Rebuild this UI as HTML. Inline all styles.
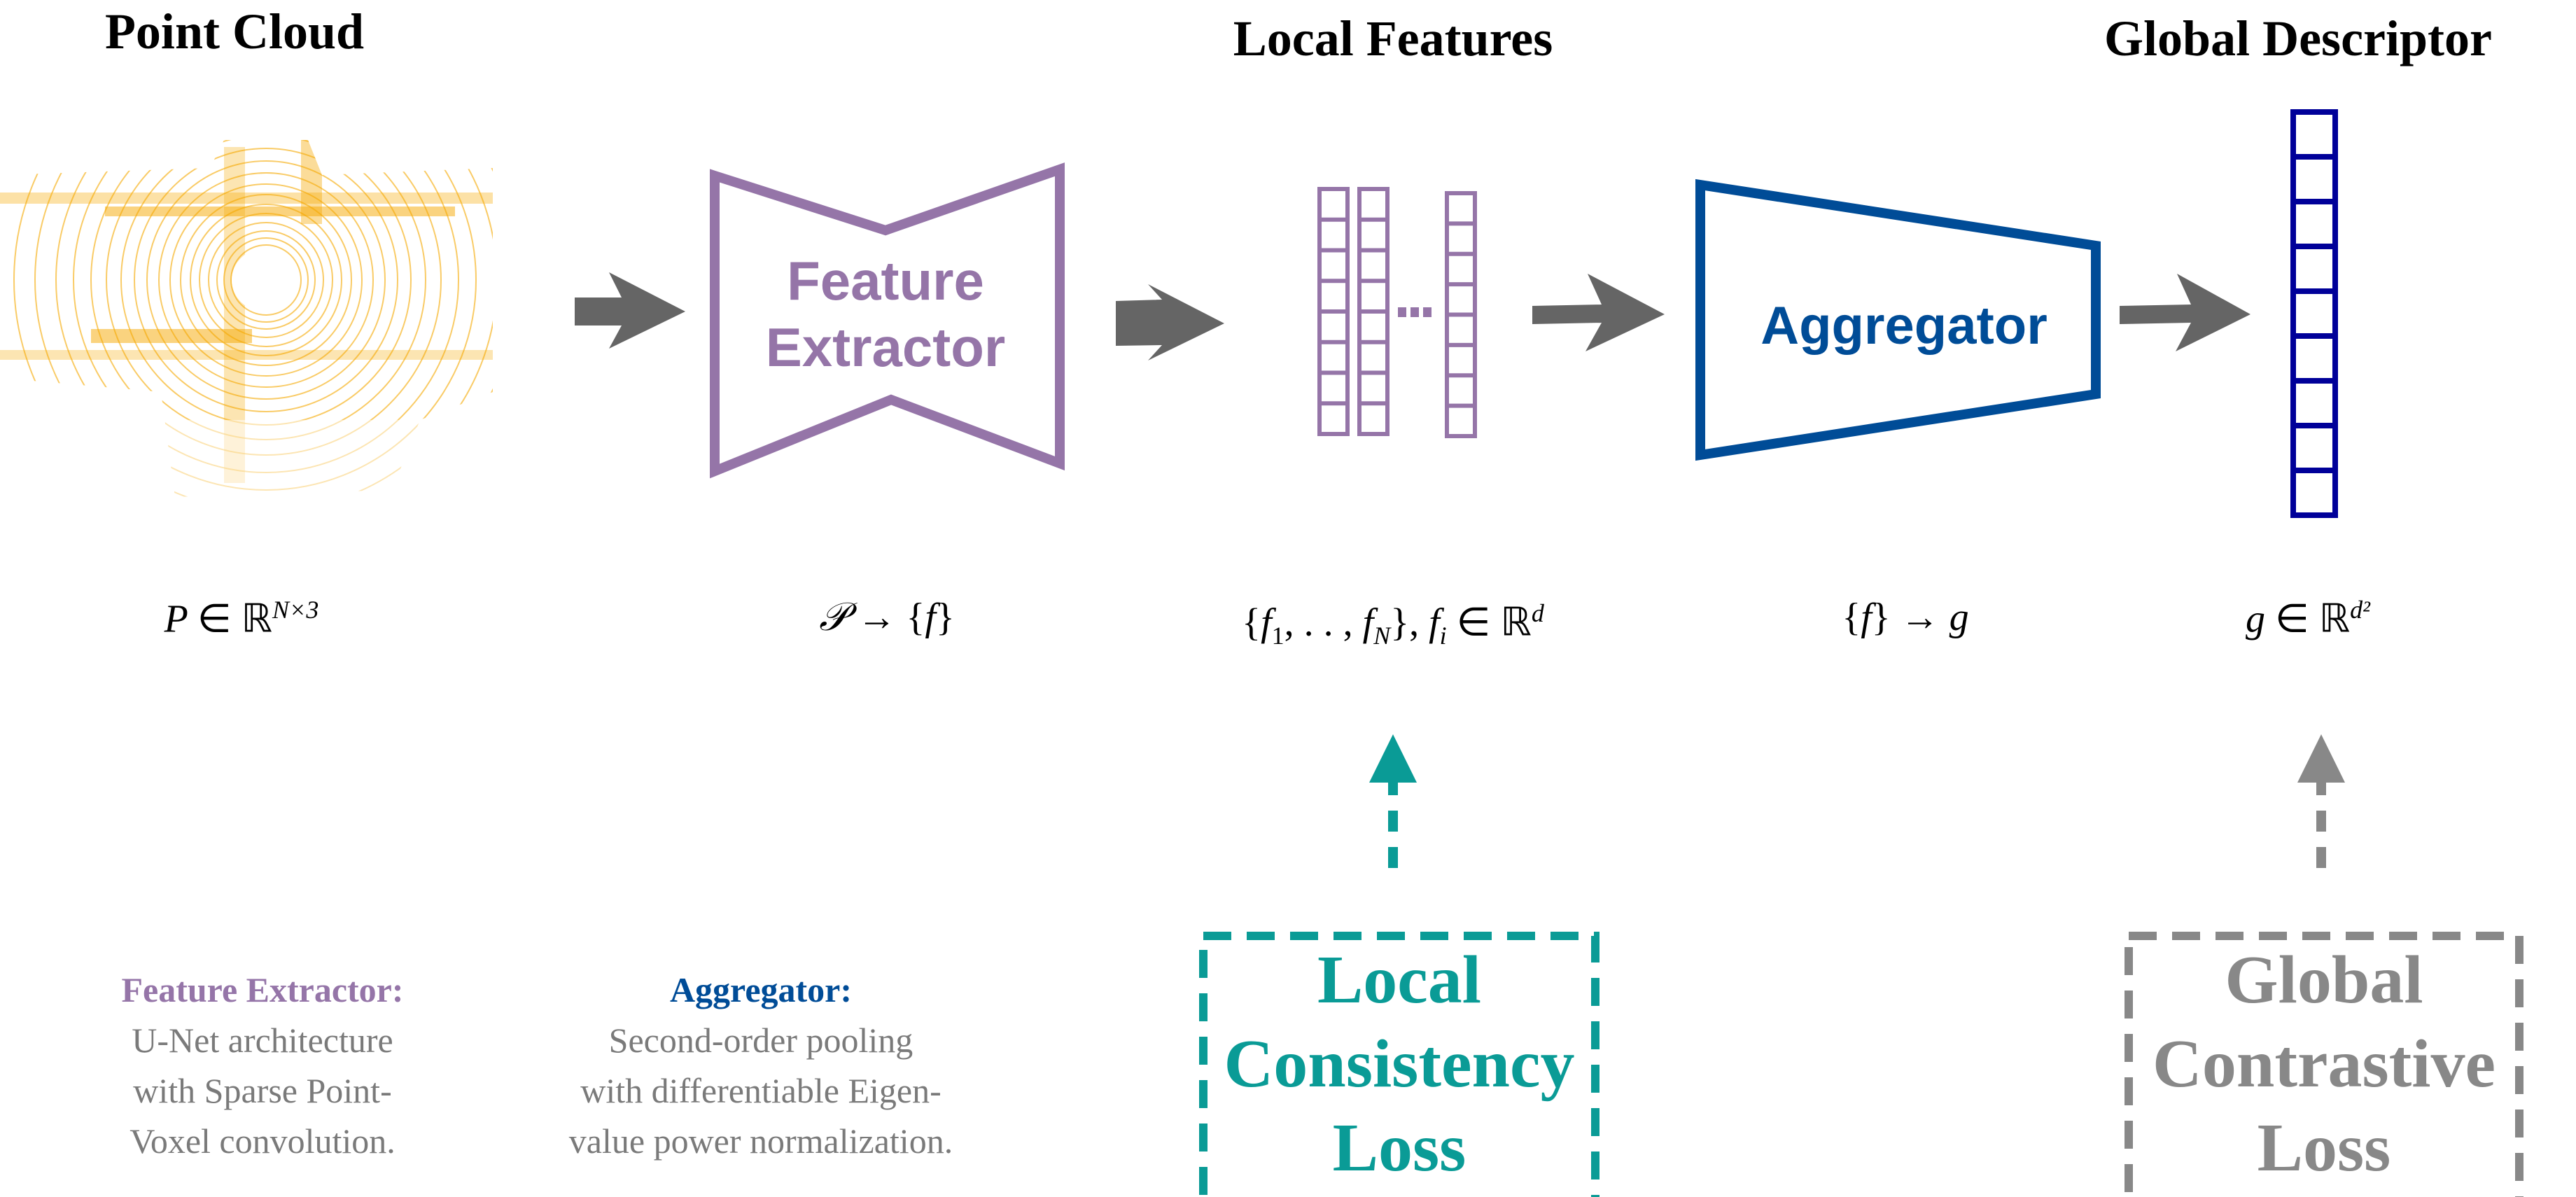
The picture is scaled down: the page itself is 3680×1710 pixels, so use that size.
<!DOCTYPE html>
<html><head><meta charset="utf-8"><style>
html,body{margin:0;padding:0;background:#fff}
body{width:3680px;height:1710px;position:relative;overflow:hidden}
.t{position:absolute;white-space:nowrap;transform:translateX(-50%);}
.title{font-family:"Liberation Serif",serif;font-weight:bold;font-size:72px;color:#000}
.math{font-family:"Liberation Serif",serif;font-style:italic;font-size:56px;color:#000}
.cap{font-family:"Liberation Serif",serif;font-size:50px;color:#7a7a7a;text-align:center;line-height:72px}
.loss{font-family:"Liberation Serif",serif;font-weight:bold;font-size:98px;text-align:center;line-height:120px}
</style></head><body>
<div class="t title" style="left:335px;top:4px">Point Cloud</div>
<div class="t title" style="left:1990px;top:14px">Local Features</div>
<div class="t title" style="left:3283px;top:14px">Global Descriptor</div>

<svg width="3680" height="1710" style="position:absolute;left:0;top:0">
<defs><clipPath id="pc"><path d="M0 250 L300 240 L320 200 L440 200 L460 250 L704 240 L704 560 L600 600 L560 700 L250 710 L230 560 L0 540 Z"/></clipPath></defs>
<g clip-path="url(#pc)">
<g fill="none" stroke="#f5a800" stroke-opacity="0.6" stroke-width="2">
<circle cx="380" cy="400" r="50"/><circle cx="380" cy="400" r="60"/><circle cx="380" cy="400" r="70"/><circle cx="380" cy="400" r="82"/><circle cx="380" cy="400" r="95"/><circle cx="380" cy="400" r="108"/><circle cx="380" cy="400" r="122"/><circle cx="380" cy="400" r="137"/><circle cx="380" cy="400" r="153"/><circle cx="380" cy="400" r="170"/><circle cx="380" cy="400" r="188"/><circle cx="380" cy="400" r="207"/><circle cx="380" cy="400" r="228"/><circle cx="380" cy="400" r="250"/><circle cx="380" cy="400" r="275"/><circle cx="380" cy="400" r="300"/><circle cx="380" cy="400" r="330"/><circle cx="380" cy="400" r="360"/>
</g>
<g fill="#f5a800" fill-opacity="0.5">
<rect x="0" y="275" width="704" height="16" fill-opacity="0.35"/><rect x="150" y="295" width="500" height="14"/><rect x="130" y="470" width="230" height="20"/><rect x="0" y="500" width="704" height="14" fill-opacity="0.3"/>
<rect x="320" y="210" width="30" height="480" fill-opacity="0.3"/><rect x="430" y="200" width="30" height="120" fill-opacity="0.4"/>
</g>
</g>
<circle cx="375" cy="400" r="44" fill="#fff"/>
<rect x="0" y="600" width="704" height="110" fill="#fff" fill-opacity="0.5"/>

<g fill="#656565">
<polygon points="821,425 888,425 870,389 979,445 870,498 888,465 821,465"/>
<polygon points="1594,430 1660,428 1640,406 1749,462 1640,515 1660,493 1594,494"/>
<polygon points="2189,437 2288,435 2268,391 2378,449 2265,502 2288,461 2189,463"/>
<polygon points="3028,437 3130,435 3110,391 3215,449 3108,502 3130,461 3028,463"/>
</g>

<polygon points="1021,251 1265,329 1514,242 1514,662 1273,571 1021,673" fill="none" stroke="#9575a8" stroke-width="14"/>
<text x="1265" y="428" text-anchor="middle" font-family="Liberation Sans,sans-serif" font-weight="bold" font-size="78" fill="#9575a8">Feature</text>
<text x="1265" y="523" text-anchor="middle" font-family="Liberation Sans,sans-serif" font-weight="bold" font-size="78" fill="#9575a8">Extractor</text>

<g fill="none" stroke="#9575a8" stroke-width="6">
<rect x="1885" y="270" width="40" height="350"/><rect x="1942" y="270" width="40" height="350"/><rect x="2067" y="276" width="40" height="347"/>
<path d="M1885 313.75H1925M1885 357.5H1925M1885 401.25H1925M1885 445H1925M1885 488.75H1925M1885 532.5H1925M1885 576.25H1925"/>
<path d="M1942 313.75H1982M1942 357.5H1982M1942 401.25H1982M1942 445H1982M1942 488.75H1982M1942 532.5H1982M1942 576.25H1982"/>
<path d="M2067 319.4H2107M2067 362.8H2107M2067 406.1H2107M2067 449.5H2107M2067 492.9H2107M2067 536.3H2107M2067 579.6H2107"/>
</g>
<g fill="#9575a8"><rect x="1997" y="439" width="12" height="14"/><rect x="2015" y="439" width="12" height="14"/><rect x="2033" y="439" width="12" height="14"/></g>

<polygon points="2429,264 2994,351 2994,563 2429,650" fill="none" stroke="#004c97" stroke-width="14"/>
<text x="2720" y="491" text-anchor="middle" font-family="Liberation Sans,sans-serif" font-weight="bold" font-size="76" fill="#004c97">Aggregator</text>

<g fill="none" stroke="#000099" stroke-width="8">
<rect x="3276" y="160" width="60" height="576"/>
<path d="M3276 224H3336M3276 288H3336M3276 352H3336M3276 416H3336M3276 480H3336M3276 544H3336M3276 608H3336M3276 672H3336"/>
</g>

<line x1="1990" y1="1240" x2="1990" y2="1100" stroke="#0a9b96" stroke-width="14" stroke-dasharray="30,22"/>
<polygon points="1956,1118 1990,1049 2024,1118" fill="#0a9b96"/>
<line x1="3316" y1="1240" x2="3316" y2="1100" stroke="#888" stroke-width="14" stroke-dasharray="30,22"/>
<polygon points="3282,1118 3316,1049 3350,1118" fill="#888"/>

<rect x="1719" y="1337" width="560" height="400" fill="none" stroke="#0a9b96" stroke-width="12" stroke-dasharray="40,22"/>
<rect x="3041" y="1337" width="558" height="400" fill="none" stroke="#888" stroke-width="12" stroke-dasharray="40,22"/>
</svg>

<div class="t math" style="left:345px;top:850px">P <span style="font-style:normal">∈ ℝ</span><sup style="font-size:36px">N×3</sup></div>
<div class="t math" style="left:1267px;top:850px">𝒫 <span style="font-style:normal">→ {</span>f<span style="font-style:normal">}</span></div>
<div class="t math" style="left:1990px;top:855px"><span style="font-style:normal">{</span>f<sub style="font-size:36px;font-style:normal">1</sub><span style="font-style:normal">, . . ,</span> f<sub style="font-size:36px">N</sub><span style="font-style:normal">},</span> f<sub style="font-size:36px">i</sub> <span style="font-style:normal">∈ ℝ</span><sup style="font-size:36px">d</sup></div>
<div class="t math" style="left:2722px;top:850px"><span style="font-style:normal">{</span>f<span style="font-style:normal">} →</span> g</div>
<div class="t math" style="left:3297px;top:850px">g <span style="font-style:normal">∈ ℝ</span><sup style="font-size:36px">d²</sup></div>

<div class="t cap" style="left:375px;top:1378px"><b style="color:#9575a8">Feature Extractor:</b><br>U-Net architecture<br>with Sparse Point-<br>Voxel convolution.</div>
<div class="t cap" style="left:1087px;top:1378px"><b style="color:#004c97">Aggregator:</b><br>Second-order pooling<br>with differentiable Eigen-<br>value power normalization.</div>

<div class="t loss" style="left:1999px;top:1340px;color:#0a9b96">Local<br>Consistency<br>Loss</div>
<div class="t loss" style="left:3320px;top:1340px;color:#888">Global<br>Contrastive<br>Loss</div>
</body></html>
